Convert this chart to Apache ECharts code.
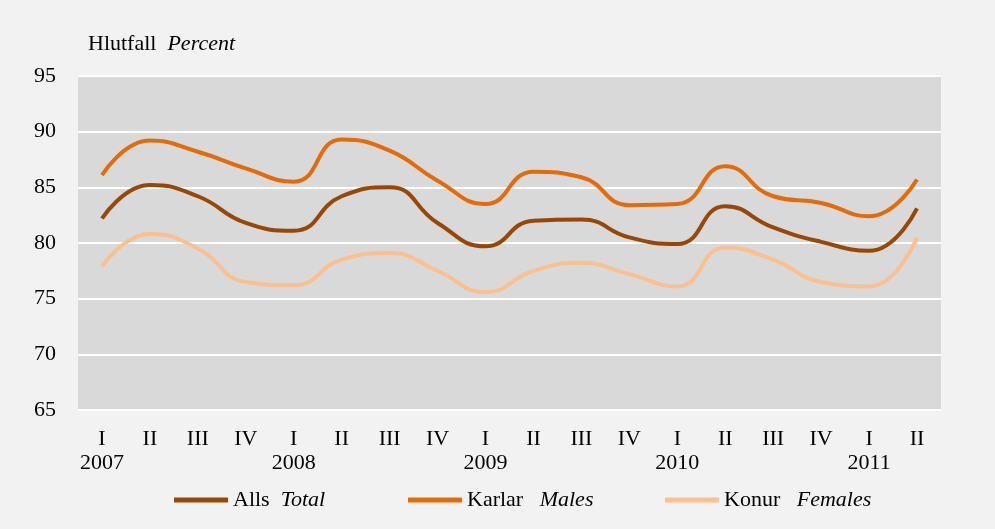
<!DOCTYPE html>
<html>
<head>
<meta charset="utf-8">
<script src="https://cdn.jsdelivr.net/npm/echarts@6/dist/echarts.min.js"></script>
<style>
  html, body { margin: 0; padding: 0; background: #f2f2f2; }
  #chart { width: 995px; height: 529px; }
</style>
</head>
<body>
<div id="chart"></div>
<script>
var quarters = ['I', 'II', 'III', 'IV', 'I', 'II', 'III', 'IV', 'I', 'II', 'III', 'IV', 'I', 'II', 'III', 'IV', 'I', 'II'];
var years = ['2007', '', '', '', '2008', '', '', '', '2009', '', '', '', '2010', '', '', '', '2011', ''];
var yTicks = [65, 70, 75, 80, 85, 90, 95];

var total = [82.2, 85.2, 84.2, 81.8, 81.1, 84.2, 85.0, 81.8, 79.7, 82.0, 82.1, 80.5, 79.9, 83.3, 81.4, 80.1, 79.3, 83.1];
var males = [86.1, 89.2, 88.2, 86.7, 85.5, 89.3, 88.3, 85.6, 83.5, 86.4, 85.9, 83.4, 83.5, 86.9, 84.2, 83.6, 82.4, 85.7];
var females = [77.9, 80.8, 79.5, 76.5, 76.2, 78.5, 79.1, 77.5, 75.6, 77.5, 78.2, 77.2, 76.1, 79.6, 78.5, 76.5, 76.1, 80.5];

var categories = quarters.map(function (q, i) {
  return years[i] ? q + '\n' + years[i] : q;
});

var font = '"Liberation Serif", "Times New Roman", serif';
var chart = echarts.init(document.getElementById('chart'), null, { renderer: 'canvas' });

function legendAt(name, left, gap) {
  return {
    data: [name],
    left: left,
    top: 489,
    padding: 0,
    icon: 'rect',
    itemWidth: 54,
    itemHeight: 5,
    itemGap: 0,
    textStyle: {
      fontFamily: font,
      fontSize: 22,
      color: '#000',
      padding: [0, 0, 0, 0],
      rich: { i: { fontFamily: font, fontSize: 22, fontStyle: 'italic', color: '#000' } }
    },
    formatter: function (n) {
      var parts = n.split('|');
      return parts[0] + gap + '{i|' + parts[1] + '}';
    }
  };
}

var option = {
  backgroundColor: '#f2f2f2',
  animation: false,
  title: {
    text: 'Hlutfall  {i|Percent}',
    left: 83,
    top: 28,
    padding: 5,
    textStyle: {
      fontFamily: font,
      fontSize: 22,
      fontWeight: 'normal',
      color: '#000',
      rich: { i: { fontFamily: font, fontSize: 22, fontStyle: 'italic', color: '#000' } }
    }
  },
  legend: [
    legendAt('Alls|Total', 174, '  '),
    legendAt('Karlar|Males', 408, '   '),
    legendAt('Konur|Females', 665, '   ')
  ],
  grid: {
    left: 78,
    right: 54,
    top: 76,
    bottom: 119,
    show: true,
    backgroundColor: '#d9d9d9',
    borderWidth: 0
  },
  xAxis: {
    type: 'category',
    data: categories,
    boundaryGap: true,
    axisLine: { show: false },
    axisTick: { show: false },
    axisLabel: {
      margin: 17,
      fontFamily: font,
      fontSize: 22,
      lineHeight: 24,
      color: '#000',
      interval: 0
    }
  },
  yAxis: {
    type: 'value',
    min: yTicks[0],
    max: yTicks[yTicks.length - 1],
    interval: 5,
    axisLine: { show: false },
    axisTick: { show: false },
    axisLabel: {
      margin: 22,
      fontFamily: font,
      fontSize: 22,
      color: '#000'
    },
    splitLine: { lineStyle: { color: '#ffffff', width: 2 } }
  },
  series: [
    {
      name: 'Alls|Total',
      type: 'line',
      data: total,
      smooth: 0.5,
      showSymbol: false,
      lineStyle: { width: 4, color: '#974806' },
      itemStyle: { color: '#974806' }
    },
    {
      name: 'Karlar|Males',
      type: 'line',
      data: males,
      smooth: 0.5,
      showSymbol: false,
      lineStyle: { width: 4, color: '#e36c09' },
      itemStyle: { color: '#e36c09' }
    },
    {
      name: 'Konur|Females',
      type: 'line',
      data: females,
      smooth: 0.5,
      showSymbol: false,
      lineStyle: { width: 4, color: '#fac090' },
      itemStyle: { color: '#fac090' }
    }
  ]
};

chart.setOption(option);
window.addEventListener('resize', chart.resize);
</script>
</body>
</html>
